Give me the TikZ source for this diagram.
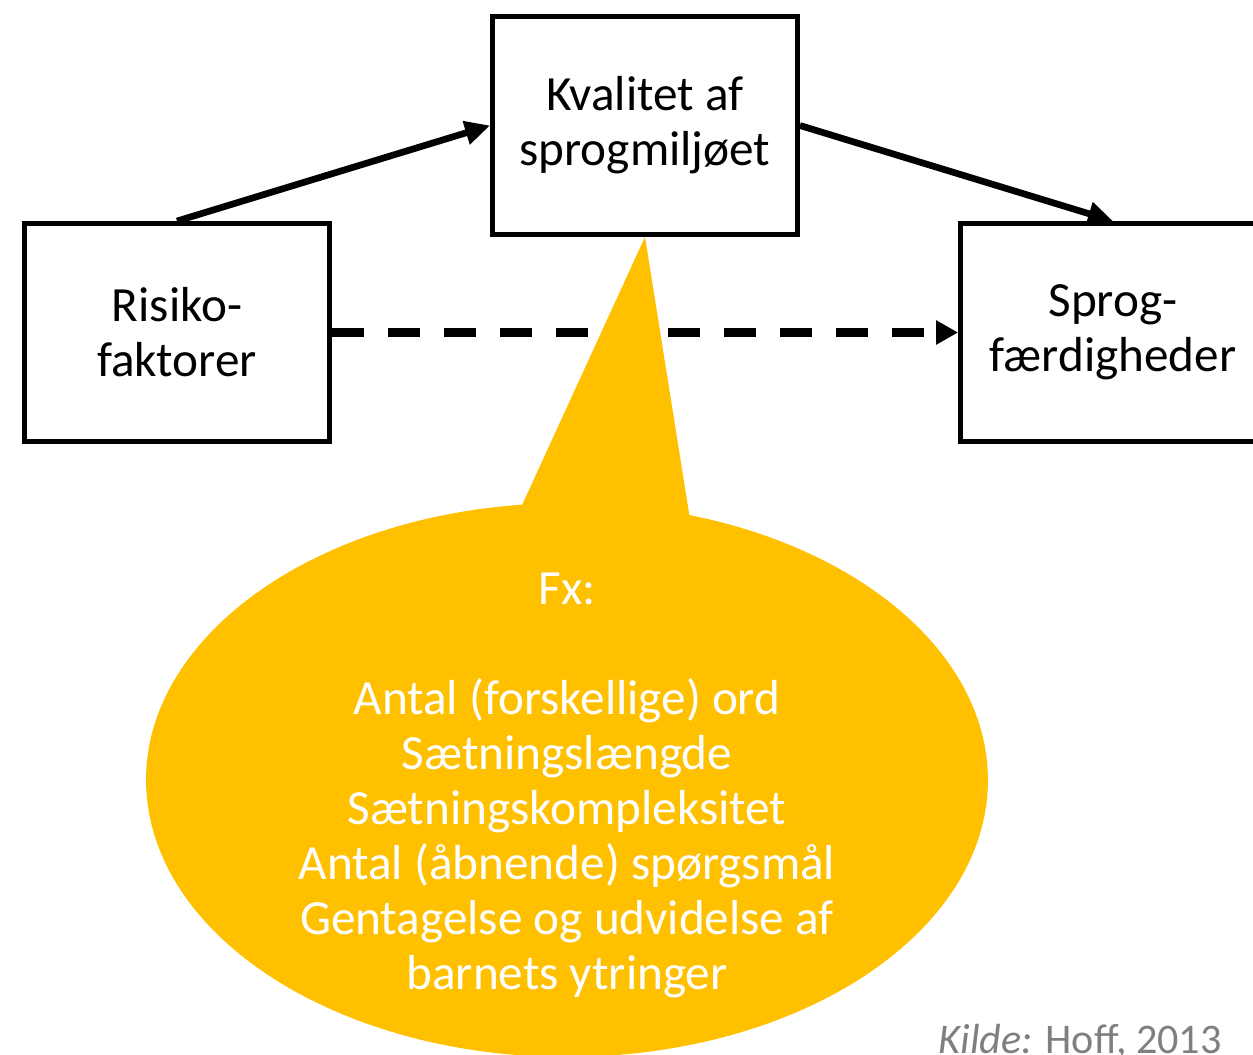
\documentclass[tikz,border=0pt]{standalone}
\usepackage{fontspec}
\setmainfont{Carlito}
\usetikzlibrary{arrows.meta,shapes.callouts}
\definecolor{gold}{HTML}{FFC000}
\definecolor{kildegray}{HTML}{7F7F7F}
\tikzset{
  box/.style={draw, line width=2.8pt, minimum width=6.1cm, minimum height=4.36cm,
    align=center, font=\fontsize{28}{31.3}\selectfont, inner sep=0pt},
  arrow/.style={line width=3.8pt, -{Triangle[length=0.5cm,width=0.46cm]}},
  dasharrow/.style={line width=4.6pt, dash pattern=on 0.64cm off 0.48cm,
    -{Triangle[length=0.44cm,width=0.46cm]}},
  bubble/.style={ellipse callout, fill=gold, draw=none, inner sep=0pt,
    minimum width=16.84cm, minimum height=11.08cm, callout pointer arc=23},
  fxtext/.style={text=white, align=center, font=\fontsize{28}{31.3}\selectfont},
  kilde/.style={text=kildegray, font=\fontsize{24}{28}\selectfont}
}
\begin{document}
\begin{tikzpicture}[x=0.02cm, y=-0.02cm]
  \useasboundingbox (0,0) rectangle (1253,1054);

  %draw boxes
  \node[box] (kval) at (645,125.5) {Kvalitet af\\sprogmiljøet};
  \node[box] (risiko) at (177,332.5) {Risiko-\\faktorer};
  \node[box] (sprog) at (1113,332.5) {Sprog-\\færdigheder};

  %draw arrows
  \draw[arrow] (risiko.north) -- (kval.west);
  \draw[arrow] (kval.east) -- (sprog.north);
  \draw[dasharrow] (risiko.east) -- (sprog.west);

  %draw callout
  \node[bubble, callout absolute pointer=(kval.south)] (fx) at (567,780) {};
  \node[fxtext] (fxliste) at (567,785) {Fx:\\[31.3pt]
    Antal (forskellige) ord\\
    Sætningslængde\\
    Sætningskompleksitet\\
    Antal (åbnende) spørgsmål\\
    Gentagelse og udvidelse af\\
    barnets ytringer};

  %draw source
  \node[kilde, anchor=base east, inner sep=0pt] (kildetekst) at (1222,1053) {\textit{Kilde:} Hoff, 2013};
\end{tikzpicture}
\end{document}
